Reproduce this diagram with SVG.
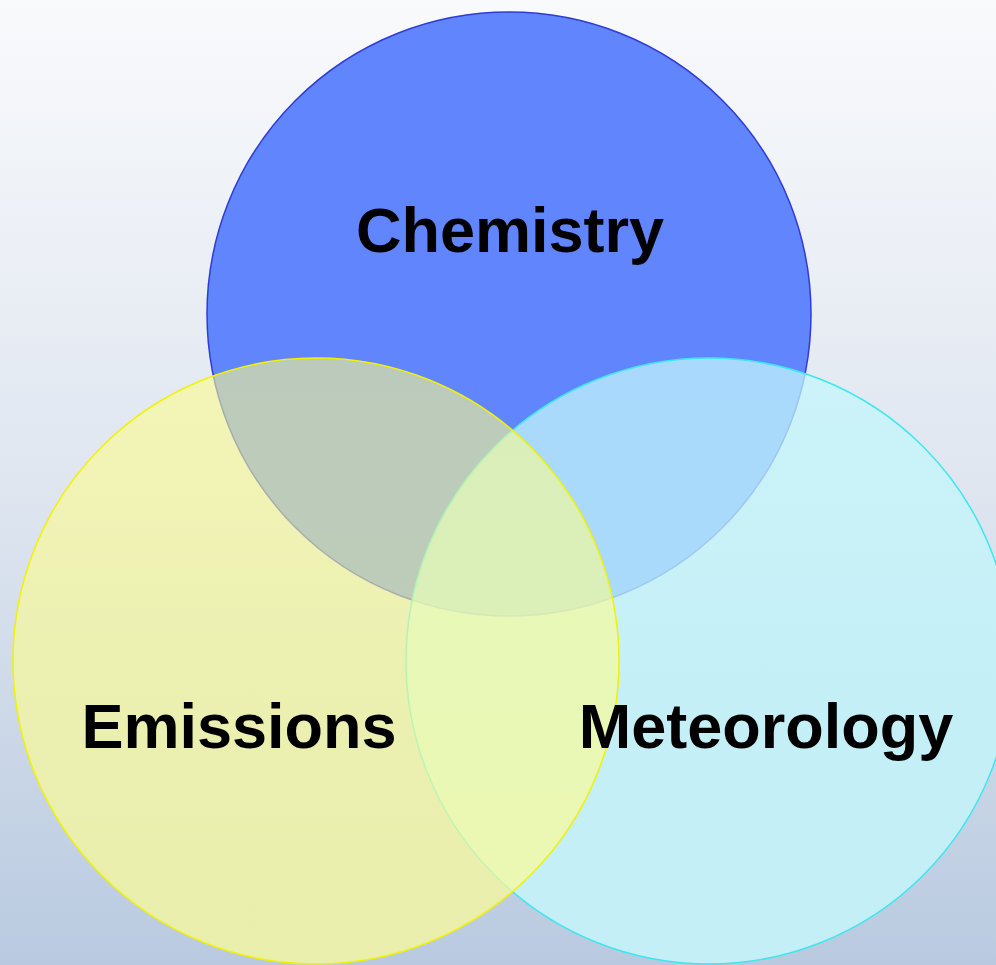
<svg xmlns="http://www.w3.org/2000/svg" width="996" height="965" viewBox="0 0 996 965">
  <defs>
    <linearGradient id="bg" x1="0" y1="0" x2="0" y2="1">
      <stop offset="0" stop-color="#f9fafc"/>
      <stop offset="0.5" stop-color="#dfe6f0"/>
      <stop offset="1" stop-color="#b9cae0"/>
    </linearGradient>
    <!-- translucent fills that firm up toward the bottom so the darker backdrop doesn't grey them -->
    <linearGradient id="yellowFill" x1="0" y1="0" x2="0" y2="1">
      <stop offset="0" stop-color="#fdfd8c" stop-opacity="0.58"/>
      <stop offset="0.45" stop-color="#fdfd8c" stop-opacity="0.6"/>
      <stop offset="1" stop-color="#fbfb9c" stop-opacity="0.75"/>
    </linearGradient>
    <linearGradient id="cyanFill" x1="0" y1="0" x2="0" y2="1">
      <stop offset="0" stop-color="#c2f6fb" stop-opacity="0.74"/>
      <stop offset="0.45" stop-color="#c2f6fb" stop-opacity="0.76"/>
      <stop offset="1" stop-color="#c6f4f9" stop-opacity="0.88"/>
    </linearGradient>
  </defs>
  <style>
    .label { font-family: "Liberation Sans", Arial, sans-serif; font-weight: bold; font-size: 63px; fill: #000; text-anchor: middle; }
  </style>
  <rect width="996" height="965" fill="url(#bg)"/>
  <g id="connectors"/>
  <g id="chemistry">
    <circle cx="509" cy="314" r="302" fill="#6085fc" stroke="#2f3bd6" stroke-width="1.5"/>
  </g>
  <g id="meteorology">
    <circle cx="709" cy="661" r="303" fill="url(#cyanFill)" stroke="#3ee6ee" stroke-width="1.5"/>
  </g>
  <g id="emissions">
    <circle cx="316" cy="661" r="303" fill="url(#yellowFill)" stroke="#f2f200" stroke-width="1.5"/>
  </g>
  <text class="label" x="510" y="252">Chemistry</text>
  <text class="label" x="239" y="748">Emissions</text>
  <text class="label" x="766" y="748">Meteorology</text>
</svg>
